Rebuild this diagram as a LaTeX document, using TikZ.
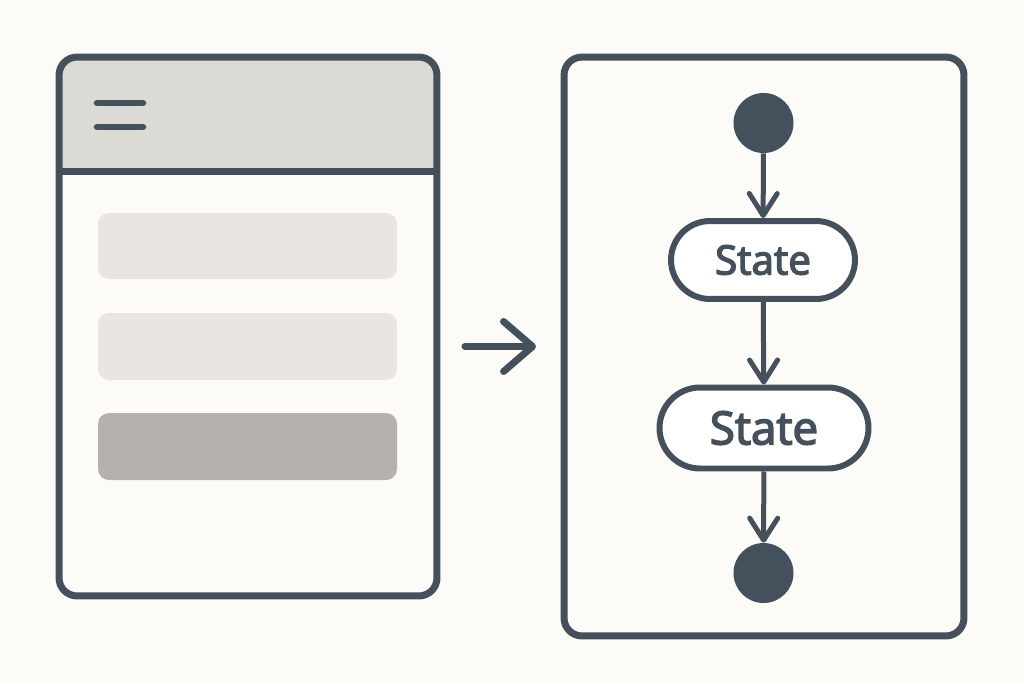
\documentclass[tikz,border=0pt]{standalone}
\usepackage{fontspec}
\setmainfont{Open Sans}
\newfontfamily\statefont[FakeBold=3.5]{Open Sans}
\usetikzlibrary{arrows.meta, positioning}
\definecolor{Slate}{HTML}{44515D}
\definecolor{Paper}{HTML}{FCFBF7}
\definecolor{HeaderGrey}{HTML}{DCDAD5}
\definecolor{BarLight}{HTML}{E9E6E1}
\definecolor{BarDark}{HTML}{B5B2AD}

\begin{document}
\begin{tikzpicture}[x=0.02cm, y=-0.02cm,
  panel/.style={rectangle, draw=Slate, line width=1.4mm, rounded corners=3.6mm,
     inner sep=0pt, outer sep=0pt},
  bar/.style={rounded corners=2.2mm},
  terminal/.style={circle, fill=Slate, minimum size=12mm, inner sep=0pt},
  state/.style={rectangle, draw=Slate, line width=1.2mm, fill=white, text=Slate,
     inner sep=0pt},
  flow/.style={draw=Slate, line width=1mm,
     -{Straight Barb[length=4.4mm, width=5.6mm, line cap=round, line join=round]}},
  goes/.style={draw=Slate, line width=1.4mm, line cap=round,
     -{Straight Barb[length=5.8mm, width=10mm, line cap=round, line join=round]}}]
  \fill[Paper] (0,0) rectangle (1024,683);
  % left: app screen
  \begin{scope}
    \clip[rounded corners=3.6mm] (59,57) rectangle (437,596);
    \fill[HeaderGrey] (59,57) rectangle (437,171);
  \end{scope}
  \node[panel, minimum width=7.56cm, minimum height=10.78cm] (ui) at (248,326.5) {};
  \draw[Slate, line width=1.4mm] (59,171) -- (437,171);
  \foreach \y in {103,127}
    \draw[Slate, line width=1.3mm, line cap=round] (97,\y) -- (143,\y);
  \fill[bar, BarLight] (98,213) rectangle (397,279);
  \fill[bar, BarLight] (98,313) rectangle (397,380);
  \fill[bar, BarDark] (98,413) rectangle (397,480);
  % right: state diagram
  \node[panel, minimum width=8cm, minimum height=11.58cm] (chart) at (764,346.5) {};
  \node[terminal] (start) at (763.5,123) {};
  \node[state, minimum width=3.68cm, minimum height=15.6mm, rounded corners=7.8mm,
     font=\statefont\fontsize{23}{26}\selectfont] (s1) at (763,260) {State};
  \node[state, minimum width=4.18cm, minimum height=16.2mm, rounded corners=8.1mm,
     font=\statefont\fontsize{26}{30}\selectfont] (s2) at (764,428) {State};
  \node[terminal] (stop) at (763.5,573) {};
  \draw[flow] (start) -- (s1);
  \draw[flow] (s1) -- (s2);
  \draw[flow] (s2) -- (stop);
  % between the two panels
  \draw[goes, shorten <=0.56cm, shorten >=0.56cm] (ui.east |- chart.west) -- (chart.west);
\end{tikzpicture}
\end{document}
